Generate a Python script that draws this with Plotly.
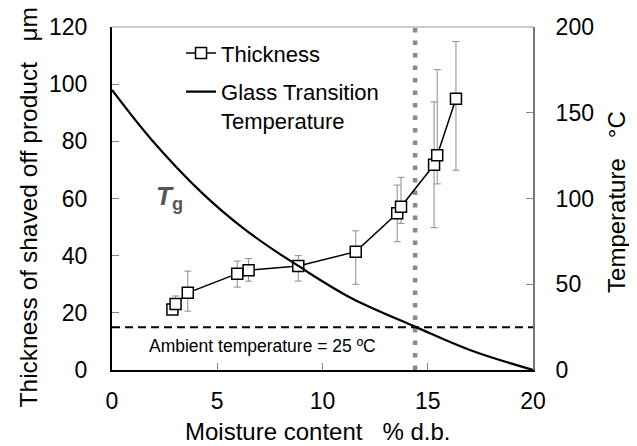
import plotly.graph_objects as go

# Thickness data
moisture = [2.87, 3.02, 3.6, 5.95, 6.49, 8.85, 11.58, 13.55, 13.73, 15.3, 15.45, 16.34]
thickness = [21.2, 23.1, 27.0, 33.7, 34.9, 36.4, 41.4, 54.8, 57.1, 71.8, 75.1, 94.9]
err_plus = [1.5, 2.8, 7.6, 4.4, 4.1, 3.6, 7.3, 9.9, 10.3, 22.0, 30.0, 20.0]
err_minus = [1.5, 2.8, 6.4, 4.7, 3.8, 5.3, 11.4, 9.9, 5.8, 22.0, 10.0, 25.0]

# Glass transition temperature curve
tg_moisture = [0, 1.9, 4.3, 6.2, 7.8, 8.9, 9.4, 11.45, 14.45, 17.0, 20.0]
tg_temp = [163.3, 134.0, 103.0, 83.0, 69.0, 60.4, 56.3, 41.4, 25.0, 11.7, 0.0]

# Reference lines
ambient_thickness_level = 15   # = 25 degC on right axis
critical_moisture = 14.4

x_ticks = [0, 5, 10, 15, 20]
y_ticks = [0, 20, 40, 60, 80, 100, 120]
y2_ticks = [0, 50, 100, 150, 200]

FONT = "Liberation Sans, Arial, sans-serif"
NB = "\u00a0"

fig = go.Figure()

fig.add_trace(go.Scatter(
    x=moisture, y=thickness, name="Thickness", mode="lines+markers",
    legendgroup="a",
    line=dict(color="black", width=1.5),
    marker=dict(symbol="square", size=11, color="white",
                line=dict(color="black", width=1.5)),
    error_y=dict(type="data", symmetric=False, array=err_plus, arrayminus=err_minus,
                 color="#8c8c8c", thickness=1, width=3.5),
    yaxis="y",
))

fig.add_trace(go.Scatter(
    x=tg_moisture, y=tg_temp, name="Glass Transition<br>Temperature", mode="lines",
    legendgroup="b",
    line=dict(color="black", width=2.2, shape="spline", smoothing=1.0),
    yaxis="y2",
))

# horizontal dashed ambient line
fig.add_shape(type="line", xref="paper", x0=0, x1=1, yref="y",
              y0=ambient_thickness_level, y1=ambient_thickness_level,
              line=dict(color="black", width=2, dash="8px,5px"), layer="above")
# vertical dotted line
fig.add_shape(type="line", xref="x", x0=critical_moisture, x1=critical_moisture,
              yref="paper", y0=0, y1=1,
              line=dict(color="#8a8a8a", width=4.5, dash="4.5px,8px"), layer="below")
# top border
fig.add_shape(type="line", xref="paper", x0=0, x1=1, yref="paper", y0=1, y1=1,
              line=dict(color="#999999", width=1))

fig.add_annotation(x=1.66, xref="x", y=8.5, yref="y",
                   text="Ambient temperature = 25 ºC", showarrow=False,
                   xanchor="left", yanchor="middle",
                   font=dict(family=FONT, size=17.5, color="black"))

fig.add_annotation(x=2.0, xref="x", y=60.5, yref="y",
                   text="<b><i>T</i></b><sub><b>g</b></sub>", showarrow=False,
                   xanchor="left", yanchor="middle",
                   font=dict(family=FONT, size=26, color="#555555"))

# axis titles as annotations
fig.add_annotation(x=-0.1995, xref="paper", y=0.474, yref="paper",
                   text=f"Thickness of shaved off product{NB}{NB}{NB}μm",
                   textangle=-90, showarrow=False, xanchor="center", yanchor="middle",
                   font=dict(family=FONT, size=24.5, color="black"))
fig.add_annotation(x=1.1995, xref="paper", y=0.49, yref="paper",
                   text=f"Temperature{NB}{NB}{NB}°C",
                   textangle=-90, showarrow=False, xanchor="center", yanchor="middle",
                   font=dict(family=FONT, size=24, color="black"))
fig.add_annotation(x=0.487, xref="paper", y=-0.178, yref="paper",
                   text=f"Moisture content{NB}{NB}{NB}% d.b.",
                   showarrow=False, xanchor="center", yanchor="middle",
                   font=dict(family=FONT, size=24, color="black"))

# The page body adds an 8px offset; the figure is sized to compensate.
fig.update_layout(
    width=629, height=438,
    margin=dict(l=104, r=104, t=19, b=76, autoexpand=False),
    paper_bgcolor="white", plot_bgcolor="white",
    font=dict(family=FONT, size=23, color="black"),
    showlegend=True,
    legend=dict(x=0.164, y=0.985, xanchor="left", yanchor="top",
                bgcolor="rgba(0,0,0,0)", font=dict(family=FONT, size=22),
                valign="top", itemwidth=30, tracegroupgap=7),
    xaxis=dict(range=[0, 20], tickvals=x_ticks, ticks="inside", ticklen=7,
               tickcolor="#888888", showline=True, linecolor="black", linewidth=2,
               showgrid=False, zeroline=False, automargin=False,
               ticklabelstandoff=9),
    yaxis=dict(range=[0, 120], tickvals=y_ticks, ticks="inside", ticklen=7,
               tickcolor="#888888", showline=True, linecolor="black", linewidth=2,
               showgrid=False, zeroline=False, automargin=False,
               ticklabelstandoff=18),
    yaxis2=dict(range=[0, 200], tickvals=y2_ticks, ticks="inside", ticklen=7,
                tickcolor="#888888", overlaying="y", side="right",
                showline=True, linecolor="#777777", linewidth=2,
                showgrid=False, zeroline=False, automargin=False,
                ticklabelstandoff=16),
)

fig.write_html("out.html")
